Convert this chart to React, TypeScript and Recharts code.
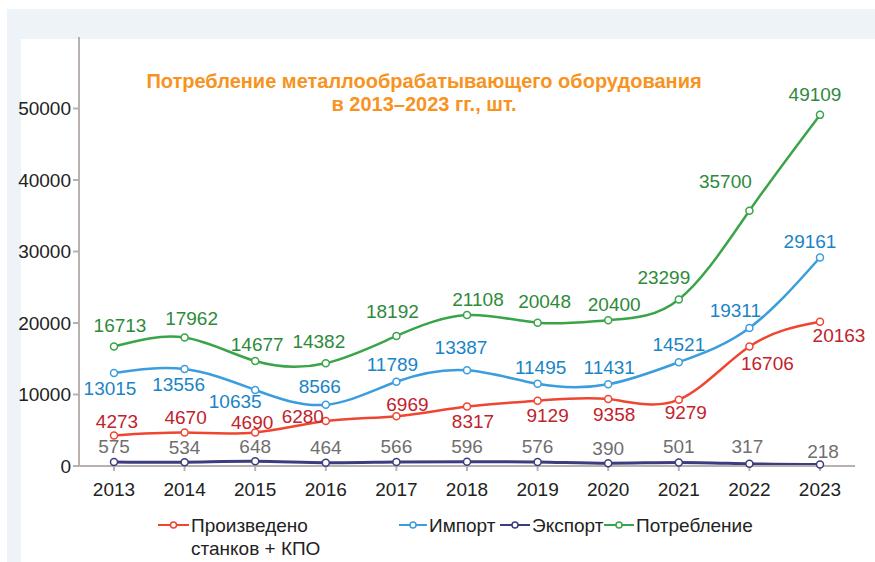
import { Legend, Line, LineChart, XAxis, YAxis } from "recharts";

const years = ["2013", "2014", "2015", "2016", "2017", "2018", "2019", "2020", "2021", "2022", "2023"];
const produced = [4273, 4670, 4690, 6280, 6969, 8317, 9129, 9358, 9279, 16706, 20163];
const imports = [13015, 13556, 10635, 8566, 11789, 13387, 11495, 11431, 14521, 19311, 29161];
const exports = [575, 534, 648, 464, 566, 596, 576, 390, 501, 317, 218];
const consumption = [16713, 17962, 14677, 14382, 18192, 21108, 20048, 20400, 23299, 35700, 49109];
const yTicks = [0, 10000, 20000, 30000, 40000, 50000];

// label offsets from each point, hand-placed like in the source
const producedOffsets = [[3, -14], [1, -15], [-3, -10], [-23, -5], [11, -12], [6, 15], [10, 15], [6, 15], [7, 13], [18, 17], [19, 14]];
const importsOffsets = [[-4, 16], [-6, 15], [-20, 12], [-6, -18], [-4, -17], [-6, -23], [3, -16], [1, -17], [0, -18], [-14, -17], [-10, -16]];
const exportsOffsets = [[0, -15], [0, -15], [0, -15], [0, -15], [0, -15], [0, -15], [0, -15], [0, -15], [0, -16], [-2, -17], [3, -13]];
const consumptionOffsets = [[6, -21], [7, -19], [2, -17], [-7, -22], [-4, -24], [11, -16], [7, -21], [6, -16], [-15, -22], [-24, -29], [-5, -20]];

const data = years.map((year, i) => ({
  year,
  produced: produced[i],
  imports: imports[i],
  exports: exports[i],
  consumption: consumption[i]
}));

const font = "'Liberation Sans', Arial, sans-serif";

const makeLabel = (offsets: number[][], color: string) => (props: any) => {
  const { x, y, value, index } = props;
  const [dx, dy] = offsets[index] ?? [0, -15];
  return (
    <text
      key={index}
      x={x + dx}
      y={y + dy}
      textAnchor="middle"
      dominantBaseline="central"
      fontSize={19}
      fontFamily={font}
      fill={color}
    >
      {value}
    </text>
  );
};

const legendItems = [
  { name: "Произведено", name2: "станков + КПО", color: "#ef4631", x: 158, w: 31 },
  { name: "Импорт", color: "#3b9ddd", x: 399, w: 28 },
  { name: "Экспорт", color: "#3d3c80", x: 500, w: 30 },
  { name: "Потребление", color: "#3aa449", x: 604, w: 30 }
];

function ChartLegend() {
  return (
    <div style={{ position: "relative", width: 875, height: 50, fontFamily: font, fontSize: 19, color: "#222" }}>
      {legendItems.map((it) => (
        <div key={it.name} style={{ position: "absolute", left: it.x, top: 4 }}>
          <svg width={it.w} height={14} style={{ position: "absolute", left: 0, top: 4 }}>
            <line x1={0} y1={7} x2={it.w} y2={7} stroke={it.color} strokeWidth={2} />
            <circle cx={it.w / 2} cy={7} r={3} fill="#fff" stroke={it.color} strokeWidth={1.5} />
          </svg>
          <div style={{ position: "absolute", left: it.w + 2, top: 0, whiteSpace: "nowrap", lineHeight: "23px" }}>
            {it.name}
            {it.name2 ? <br /> : null}
            {it.name2}
          </div>
        </div>
      ))}
    </div>
  );
}

export default function App() {
  return (
    <div style={{ position: "fixed", left: 0, top: 0, width: 875, height: 562, background: "#fff", overflow: "hidden" }}>
      <div style={{ position: "absolute", left: 7, top: 9, right: 0, bottom: 0, background: "#eef3f8" }} />
      <div style={{ position: "absolute", left: 21, top: 39, right: 0, bottom: 0, background: "#fff" }} />
      <div
        style={{
          position: "absolute",
          left: 0,
          width: 848,
          top: 70,
          textAlign: "center",
          color: "#f7931e",
          fontFamily: font,
          fontWeight: "bold",
          fontSize: 20,
          lineHeight: "23px"
        }}
      >
        Потребление металлообрабатывающего оборудования
        <br />в 2013–2023 гг., шт.
      </div>
      <div style={{ position: "absolute", left: 0, top: 0 }}>
        <LineChart width={875} height={562} data={data} margin={{ top: 37, right: 20, bottom: 66, left: 9 }}>
          <XAxis
            dataKey="year"
            padding={{ left: 35, right: 35 }}
            stroke="#b9b1ae"
            strokeWidth={2}
            tickSize={5}
            tickMargin={12}
            height={30}
            tick={{ fill: "#222", fontSize: 19, fontFamily: font }}
          />
          <YAxis
            domain={[0, 60000]}
            ticks={yTicks}
            width={70}
            stroke="#b9b1ae"
            strokeWidth={2}
            tickSize={6}
            tickMargin={2}
            tick={{ fill: "#222", fontSize: 19, fontFamily: font }}
          />
          <Legend verticalAlign="middle" layout="horizontal" wrapperStyle={{ left: 0, top: 510, width: 875 }} content={() => <ChartLegend />} />
          <Line
            type="natural"
            dataKey="exports"
            stroke="#3d3c80"
            strokeWidth={3}
            dot={{ r: 3.5, fill: "#fff", stroke: "#3d3c80", strokeWidth: 1.5 }}
            label={makeLabel(exportsOffsets, "#6f6f6f")}
            isAnimationActive={false}
          />
          <Line
            type="natural"
            dataKey="produced"
            stroke="#ef4631"
            strokeWidth={2.5}
            dot={{ r: 3.5, fill: "#fff", stroke: "#ef4631", strokeWidth: 1.5 }}
            label={makeLabel(producedOffsets, "#c1232c")}
            isAnimationActive={false}
          />
          <Line
            type="natural"
            dataKey="imports"
            stroke="#3b9ddd"
            strokeWidth={2.5}
            dot={{ r: 3.5, fill: "#fff", stroke: "#3b9ddd", strokeWidth: 1.5 }}
            label={makeLabel(importsOffsets, "#1a84c7")}
            isAnimationActive={false}
          />
          <Line
            type="natural"
            dataKey="consumption"
            stroke="#3aa449"
            strokeWidth={2.5}
            dot={{ r: 3.5, fill: "#fff", stroke: "#3aa449", strokeWidth: 1.5 }}
            label={makeLabel(consumptionOffsets, "#2e8a3a")}
            isAnimationActive={false}
          />
        </LineChart>
      </div>
    </div>
  );
}
